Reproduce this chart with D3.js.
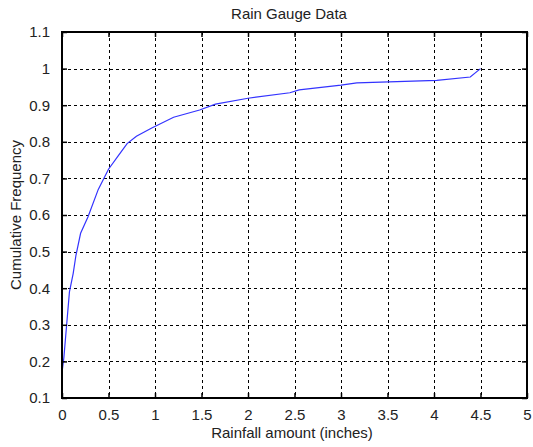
<!DOCTYPE html>
<html><head><meta charset="utf-8">
<script src="https://cdn.jsdelivr.net/npm/d3@7"></script>
<style>body{margin:0;background:#fff}svg{display:block}text{font-family:"Liberation Sans",Arial,sans-serif;fill:#222}</style>
</head><body><svg id="c" width="533" height="447"></svg>
<script>
const rainfall = [0, 0.02, 0.05, 0.08, 0.12, 0.15, 0.2, 0.28, 0.39, 0.5, 0.6, 0.7, 0.8, 0.96, 1.2, 1.48, 1.65, 2.0, 2.45, 2.55, 3.0, 3.17, 4.03, 4.39, 4.5];
const cumFreq  = [0.17, 0.21, 0.30, 0.39, 0.44, 0.49, 0.55, 0.595, 0.67, 0.725, 0.76, 0.795, 0.815, 0.837, 0.867, 0.887, 0.903, 0.919, 0.934, 0.942, 0.955, 0.961, 0.968, 0.977, 1.0];
const xTicks = [0,0.5,1,1.5,2,2.5,3,3.5,4,4.5,5];
const yTicks = [0.1,0.2,0.3,0.4,0.5,0.6,0.7,0.8,0.9,1,1.1];
const title = "Rain Gauge Data", xLabel = "Rainfall amount (inches)", yLabel = "Cumulative Frequency";

const L=62,R=527,T=32,B=398;
const FS=15;
const svg=d3.select("#c");
const x=d3.scaleLinear().domain([0,5]).range([L,R]);
const y=d3.scaleLinear().domain([0.1,1.1]).range([B,T]);

// grid
const g=svg.append("g").attr("stroke","#000").attr("stroke-width",1).attr("stroke-dasharray","3,3");
xTicks.slice(1,-1).forEach(t=>g.append("line").attr("x1",Math.round(x(t))+0.5).attr("x2",Math.round(x(t))+0.5).attr("y1",T).attr("y2",B));
yTicks.slice(1,-1).forEach(t=>g.append("line").attr("y1",Math.round(y(t))+0.5).attr("y2",Math.round(y(t))+0.5).attr("x1",L).attr("x2",R));

// line
const line=d3.line().x((d,i)=>x(rainfall[i])).y(d=>y(d));
svg.append("path").datum(cumFreq).attr("d",line).attr("fill","none").attr("stroke","#3333ff").attr("stroke-width",1.2);

// axes with inward ticks
const ax=svg.append("g").attr("transform",`translate(0,${B})`).call(d3.axisBottom(x).tickValues(xTicks).tickSize(-5).tickPadding(11).tickFormat(d=>String(d)));
const axT=svg.append("g").attr("transform",`translate(0,${T})`).call(d3.axisTop(x).tickValues(xTicks).tickSize(-5).tickFormat(""));
const ay=svg.append("g").attr("transform",`translate(${L},0)`).call(d3.axisLeft(y).tickValues(yTicks).tickSize(-5).tickPadding(12).tickFormat(d=>String(+d.toFixed(1))));
const ayR=svg.append("g").attr("transform",`translate(${R},0)`).call(d3.axisRight(y).tickValues(yTicks).tickSize(-5).tickFormat(""));
[ax,axT,ay,ayR].forEach(a=>{a.select(".domain").remove();a.selectAll("line").attr("stroke","#000").attr("stroke-width",1.5);a.selectAll("text").attr("font-size",FS).attr("fill","#222").attr("font-family","Liberation Sans, Arial, sans-serif");});
ax.selectAll("text").attr("dy","0.71em");
svg.append("rect").attr("x",L).attr("y",T).attr("width",R-L).attr("height",B-T).attr("fill","none").attr("stroke","#000").attr("stroke-width",2);

svg.append("text").attr("x",289).attr("y",19).attr("text-anchor","middle").attr("font-size",FS).text(title);
svg.append("text").attr("x",292).attr("y",438).attr("text-anchor","middle").attr("font-size",FS).text(xLabel);
svg.append("text").attr("transform","translate(21,215) rotate(-90)").attr("text-anchor","middle").attr("font-size",FS).text(yLabel);
</script></body></html>
